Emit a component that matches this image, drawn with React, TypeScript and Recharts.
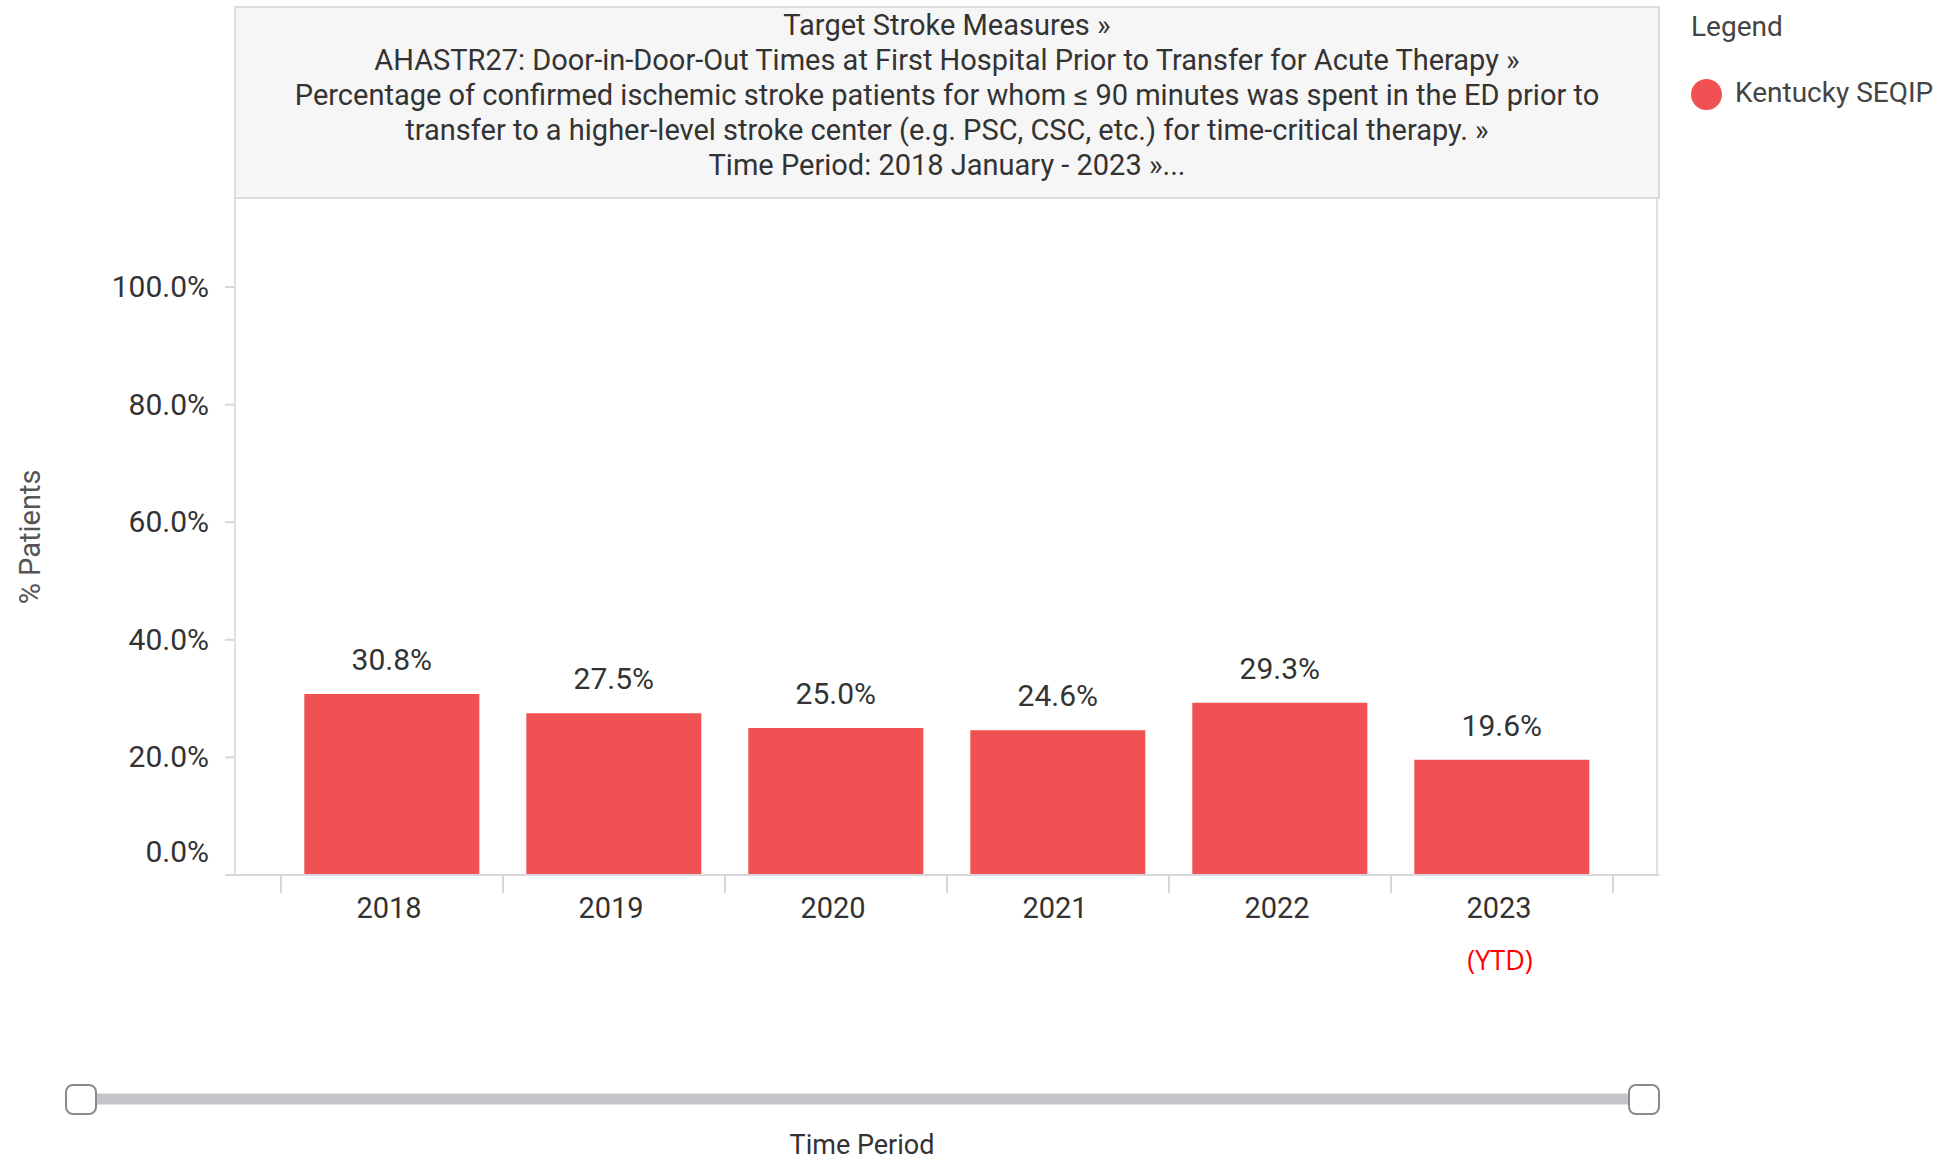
import React from "react";
import { Bar, BarChart, LabelList, XAxis, YAxis } from "recharts";

const years = ["2018", "2019", "2020", "2021", "2022", "2023"];
const pctPatients = [30.8, 27.5, 25.0, 24.6, 29.3, 19.6];
const yTicks = [0, 20, 40, 60, 80, 100];
const headerLines = [
  "Target Stroke Measures »",
  "AHASTR27: Door-in-Door-Out Times at First Hospital Prior to Transfer for Acute Therapy »",
  "Percentage of confirmed ischemic stroke patients for whom ≤ 90 minutes was spent in the ED prior to",
  "transfer to a higher-level stroke center (e.g. PSC, CSC, etc.) for time-critical therapy. »",
  "Time Period: 2018 January - 2023 »...",
];
const seriesName = "Kentucky SEQIP";

const BAR_COLOR = "#f05152";
const TEXT = "#333333";
const GRID = "#d6d6dc";
const FONT = "Roboto, 'Noto Sans', sans-serif";

const data = years.map((year, i) => ({ year, value: pctPatients[i] }));

function YearTick(props: any) {
  const { x, y, payload, index } = props;
  const half = payload?.offset ?? 111;
  const isLast = index === years.length - 1;
  return (
    <g>
      <line x1={x - half} x2={x - half} y1={y} y2={y + 18} stroke={GRID} strokeWidth={2} />
      {isLast && (
        <line x1={x + half} x2={x + half} y1={y} y2={y + 18} stroke={GRID} strokeWidth={2} />
      )}
      <text x={x - 3} y={y + 43} textAnchor="middle" fill={TEXT} fontSize={29} fontFamily={FONT}>
        {payload.value}
      </text>
    </g>
  );
}

function PctTick(props: any) {
  const { x, y, payload } = props;
  // bottom label sits above the axis line in the original
  const dy = payload.value === 0 ? -23 : 0;
  return (
    <text
      x={x}
      y={y + dy}
      dy={10}
      textAnchor="end"
      fill={TEXT}
      fontSize={30}
      fontFamily={FONT}
    >
      {payload.value.toFixed(1) + "%"}
    </text>
  );
}

export default function App() {
  return (
    <div
      style={{
        position: "absolute",
        left: 0,
        top: 0,
        width: 1960,
        height: 1164,
        overflow: "hidden",
        background: "#fff",
        fontFamily: FONT,
      }}
    >
      <BarChart
        width={1960}
        height={1164}
        data={data}
        margin={{ top: 287, right: 301, bottom: 229, left: 0 }}
        barCategoryGap="10.5%"
      >
        <XAxis
          dataKey="year"
          height={60}
          padding={{ left: 46, right: 46 }}
          tickLine={false}
          tickSize={0}
          tickMargin={0}
          axisLine={{ stroke: GRID, strokeWidth: 2 }}
          tick={<YearTick />}
          interval={0}
        />
        <YAxis
          width={235}
          domain={[0, 100]}
          ticks={yTicks}
          axisLine={false}
          tickLine={{ stroke: GRID, strokeWidth: 2 }}
          tickSize={10}
          tickMargin={16}
          tick={<PctTick />}
        />
        <Bar dataKey="value" fill={BAR_COLOR} isAnimationActive={false}>
          <LabelList
            dataKey="value"
            position="top"
            offset={24}
            fill={TEXT}
            fontSize={30}
            fontFamily={FONT}
            formatter={(v: any) => Number(v).toFixed(1) + "%"}
          />
        </Bar>
      </BarChart>

      {/* plot frame */}
      <div
        style={{
          position: "absolute",
          left: 234,
          top: 196,
          width: 1424,
          height: 678,
          borderLeft: "2px solid #e0e0e0",
          borderRight: "2px solid #e0e0e0",
          boxSizing: "border-box",
          pointerEvents: "none",
        }}
      />

      {/* header box */}
      <div
        style={{
          position: "absolute",
          left: 234,
          top: 6,
          width: 1426,
          height: 193,
          background: "#f6f6f6",
          border: "2px solid #dcdcdc",
          boxSizing: "border-box",
          textAlign: "center",
          color: TEXT,
          fontSize: 29,
          lineHeight: "35px",
        }}
      >
        {headerLines.map((t) => (
          <div key={t} style={{ whiteSpace: "nowrap" }}>
            {t}
          </div>
        ))}
      </div>

      {/* legend */}
      <div style={{ position: "absolute", left: 1691, top: 10, fontSize: 28, color: "#444" }}>
        Legend
      </div>
      <div
        style={{
          position: "absolute",
          left: 1691,
          top: 79,
          width: 31,
          height: 31,
          borderRadius: "50%",
          background: BAR_COLOR,
        }}
      />
      <div style={{ position: "absolute", left: 1735, top: 76, fontSize: 28, color: "#444" }}>
        {seriesName}
      </div>

      {/* y axis title */}
      <div
        style={{
          position: "absolute",
          left: 30,
          top: 537,
          transform: "translate(-50%, -50%) rotate(-90deg)",
          fontSize: 29,
          color: "#555",
          whiteSpace: "nowrap",
        }}
      >
        % Patients
      </div>

      {/* YTD note */}
      <div
        style={{
          position: "absolute",
          left: 1500,
          top: 959,
          transform: "translate(-50%, -50%)",
          fontSize: 27,
          color: "#ff0000",
          fontFamily: "'Open Sans', sans-serif",
        }}
      >
        (YTD)
      </div>

      {/* time slider */}
      <div
        style={{
          position: "absolute",
          left: 80,
          top: 1093,
          width: 1564,
          height: 12,
          background: "#c4c5c9",
          borderTop: "1px solid #e2e2e2",
          borderBottom: "1px solid #e2e2e2",
          boxSizing: "border-box",
        }}
      />
      {[65, 1628].map((left) => (
        <div
          key={left}
          style={{
            position: "absolute",
            left,
            top: 1084,
            width: 32,
            height: 31,
            background: "#fff",
            border: "2px solid #8a8a8a",
            borderRadius: 8,
            boxSizing: "border-box",
          }}
        />
      ))}
      <div
        style={{
          position: "absolute",
          left: 862,
          top: 1129,
          transform: "translateX(-50%)",
          fontSize: 27,
          lineHeight: "32px",
          color: TEXT,
          whiteSpace: "nowrap",
        }}
      >
        Time Period
      </div>
    </div>
  );
}
